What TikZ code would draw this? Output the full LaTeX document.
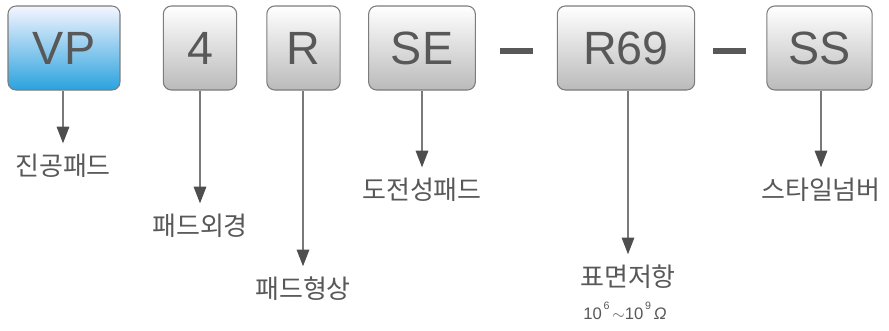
\documentclass[tikz,border=0pt]{standalone}
\usepackage{fontspec}
\setmainfont{Liberation Sans}
\newfontfamily\kofont{Noto Sans CJK KR}
\usetikzlibrary{arrows.meta}
\definecolor{txtgray}{HTML}{585858}
\definecolor{linegray}{HTML}{7A7A7A}
\definecolor{tipgray}{HTML}{4E4E50}
\definecolor{boxline}{HTML}{7C7C7C}
\definecolor{skyblue}{HTML}{2AA2DE}
\begin{document}
\begin{tikzpicture}[x=0.75pt, y=-0.75pt]
    \tikzstyle{codebox}=[draw=boxline, line width=0.8pt, rounded corners=6pt,
        top color=white, bottom color=black!27, minimum height=63pt,
        text=txtgray, font=\fontsize{35}{35}\selectfont, inner sep=0pt]
    \tikzstyle{kolabel}=[text=txtgray, font=\kofont\fontsize{19.5}{19.5}\selectfont, inner sep=0pt]
    \tikzstyle{pointer}=[draw=linegray, line width=0.8pt,
        -{Triangle[width=9.5pt, length=12.5pt, fill=tipgray, color=tipgray]}, shorten >=8pt]
    \tikzstyle{sep}=[draw=txtgray, line width=4.5pt]

    \useasboundingbox (0, 0) rectangle (889, 330);

    % boxes
    \node (vp) at (64, 48) [codebox, minimum width=84pt, top color=blue!4, bottom color=skyblue] {VP};
    \node (len) at (200, 48) [codebox, minimum width=55pt] {4};
    \node (shape) at (303.5, 48) [codebox, minimum width=55pt] {R};
    \node (cond) at (422, 48) [codebox, minimum width=80pt] {SE};
    \node (res) at (626, 48) [codebox, minimum width=103pt] {R69};
    \node (style) at (819.5, 48) [codebox, minimum width=79pt] {SS};

    % dashes
    \coordinate (d1a) at (500, 51);
    \coordinate (d1b) at (533, 51);
    \coordinate (d2a) at (713, 51);
    \coordinate (d2b) at (746, 51);
    \draw [sep] (d1a) -- (d1b);
    \draw [sep] (d2a) -- (d2b);

    % labels
    \node (vp-lab) at (63, 166) [kolabel] {진공패드};
    \node (len-lab) at (200, 226) [kolabel] {패드외경};
    \node (shape-lab) at (303, 289) [kolabel] {패드형상};
    \node (cond-lab) at (422, 190) [kolabel] {도전성패드};
    \node (res-lab) at (628, 277) [kolabel] {표면저항};
    \node (res-val) at (625, 311) [text=txtgray, font=\fontsize{12.5}{12.5}\selectfont, inner sep=0pt]
        {10\raisebox{1.2ex}{\fontsize{8}{8}\selectfont\,6}\,$\sim$10\raisebox{1.2ex}{\fontsize{8}{8}\selectfont\,9}\,\textit{Ω}};
    \node (style-lab) at (821, 190) [kolabel] {스타일넘버};

    \draw [pointer] (vp.south -| vp-lab) -- (vp-lab.north);
    \draw [pointer] (len.south -| len-lab) -- (len-lab.north);
    \draw [pointer] (shape.south -| shape-lab) -- (shape-lab.north);
    \draw [pointer] (cond.south -| cond-lab) -- (cond-lab.north);
    \draw [pointer] (res.south -| res-lab) -- (res-lab.north);
    \draw [pointer] (style.south -| style-lab) -- (style-lab.north);
\end{tikzpicture}
\end{document}
